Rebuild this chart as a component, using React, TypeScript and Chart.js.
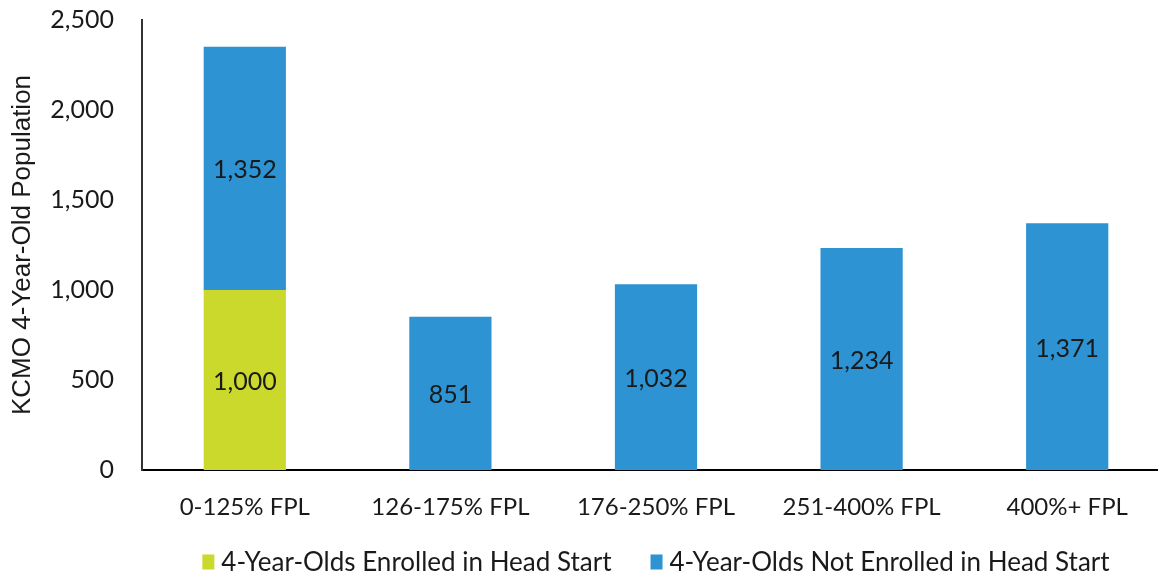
import React, { useEffect, useRef } from "react";
import { Chart, registerables } from "chart.js";

Chart.register(...registerables);

const categories = ["0-125% FPL", "126-175% FPL", "176-250% FPL", "251-400% FPL", "400%+ FPL"];
const enrolled = [1000, null, null, null, null];
const notEnrolled = [1352, 851, 1032, 1234, 1371];
const seriesNames = ["4-Year-Olds Enrolled in Head Start", "4-Year-Olds Not Enrolled in Head Start"];
const yTicks = [0, 500, 1000, 1500, 2000, 2500];
const yTitle = "KCMO 4-Year-Old Population";

const GREEN = "#CAD92B";
const BLUE = "#2D93D2";
const FONT = "Lato, 'Open Sans', sans-serif";
const TEXT = "#1a1a1a";

const labelPlugin = {
  id: "barLabels",
  afterDatasetsDraw(chart: any) {
    const ctx = chart.ctx;
    ctx.save();
    ctx.font = `25px ${FONT}`;
    ctx.fillStyle = TEXT;
    ctx.textAlign = "center";
    ctx.textBaseline = "middle";
    chart.data.datasets.forEach((ds: any, di: number) => {
      const meta = chart.getDatasetMeta(di);
      meta.data.forEach((el: any, i: number) => {
        const v = ds.data[i];
        if (v == null) return;
        const { x, y, base } = el.getProps(["x", "y", "base"], true);
        ctx.fillText(Number(v).toLocaleString("en-US"), x, (y + base) / 2 + 2);
      });
    });
    ctx.restore();
  },
};

const legendPlugin = {
  id: "customLegend",
  afterDraw(chart: any) {
    const ctx = chart.ctx;
    const area = chart.chartArea;
    ctx.save();
    ctx.font = `26px ${FONT}`;
    ctx.textBaseline = "middle";
    ctx.textAlign = "left";
    const boxW = 12, boxH = 15, boxGap = 7, itemGap = 39;
    const items = chart.data.datasets.map((ds: any) => ({
      text: ds.label,
      color: ds.backgroundColor,
      w: boxW + boxGap + ctx.measureText(ds.label).width,
    }));
    const total = items.reduce((a: number, it: any) => a + it.w, 0) + itemGap * (items.length - 1);
    let x = (area.left + area.right) / 2 - total / 2;
    const y = 562;
    items.forEach((it: any) => {
      ctx.fillStyle = it.color;
      ctx.fillRect(x, y - boxH / 2, boxW, boxH);
      ctx.fillStyle = TEXT;
      ctx.fillText(it.text, x + boxW + boxGap, y + 1);
      x += it.w + itemGap;
    });
    ctx.restore();
  },
};

export default function App() {
  const ref = useRef<HTMLCanvasElement>(null);
  useEffect(() => {
    if (!ref.current) return;
    const chart = new Chart(ref.current, {
      type: "bar",
      data: {
        labels: categories,
        datasets: [
          { label: seriesNames[0], data: enrolled, backgroundColor: GREEN, barPercentage: 0.4, categoryPercentage: 1 },
          { label: seriesNames[1], data: notEnrolled, backgroundColor: BLUE, barPercentage: 0.4, categoryPercentage: 1 },
        ],
      },
      options: {
        animation: false,
        responsive: false,
        maintainAspectRatio: false,
        layout: { padding: { top: 0, right: 0, left: 0, bottom: 40 } },
        plugins: {
          tooltip: { enabled: false },
          legend: { display: false },
        },
        scales: {
          x: {
            stacked: true,
            grid: { display: false, drawTicks: false },
            border: { display: true, color: "#000", width: 2 },
            ticks: { color: TEXT, font: { family: FONT, size: 24 }, padding: 23 },
            afterFit: (s: any) => { s.height = 65; },
          },
          y: {
            stacked: true,
            min: 0,
            max: 2500,
            afterBuildTicks: (s: any) => { s.ticks = yTicks.map((v) => ({ value: v })); },
            grid: { display: false, drawTicks: false },
            border: { display: true, color: "#333", width: 2 },
            ticks: {
              color: TEXT,
              font: { family: FONT, size: 25 },
              padding: 28,
              callback: (v: any) => Number(v).toLocaleString("en-US"),
            },
            title: {
              display: true,
              text: yTitle,
              color: TEXT,
              font: { family: "'Liberation Sans', Arial, sans-serif", size: 26 },
              padding: { top: 7, bottom: 0 },
            },
            afterFit: (s: any) => { s.width = 142; s.paddingTop = 20; s.paddingBottom = 0; },
          },
        },
      },
      plugins: [labelPlugin, legendPlugin],
    });
    return () => chart.destroy();
  }, []);
  return (
    <div style={{ position: "fixed", left: 0, top: 0, width: 1158, height: 575, overflow: "hidden", background: "#fff" }}>
      <canvas ref={ref} width={1170} height={575} style={{ display: "block" }} />
    </div>
  );
}
